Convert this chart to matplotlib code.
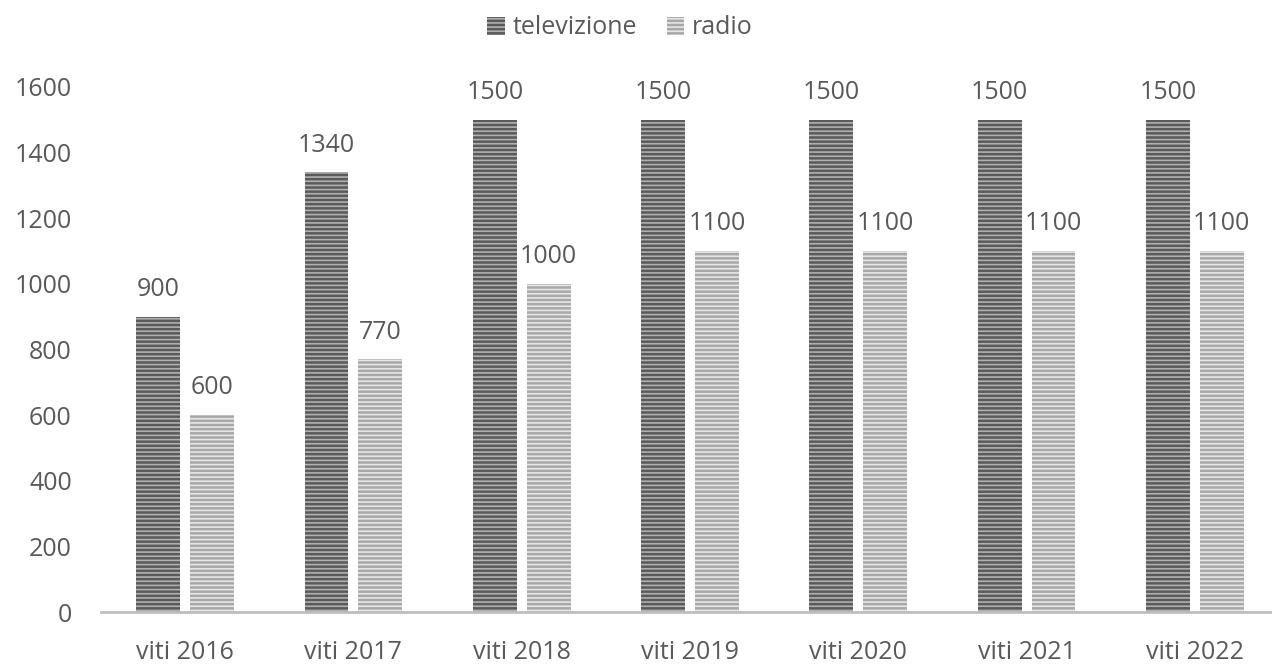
import matplotlib
matplotlib.use("Agg")
import matplotlib.pyplot as plt
import numpy as np

categories = ["viti 2016", "viti 2017", "viti 2018", "viti 2019", "viti 2020", "viti 2021", "viti 2022"]
televizione = [900, 1340, 1500, 1500, 1500, 1500, 1500]
radio = [600, 770, 1000, 1100, 1100, 1100, 1100]
yticks = [0, 200, 400, 600, 800, 1000, 1200, 1400, 1600]

plt.rcParams['font.family'] = ['Open Sans', 'DejaVu Sans']
plt.rcParams['hatch.linewidth'] = 1.2

fig = plt.figure(figsize=(12.72, 6.66), dpi=100)
ax = fig.add_axes([101/1272, 1-612/666, 1178/1272, (612-87)/666])

x = np.arange(len(categories))
w = 0.26
off = 0.16
txtc = '#595959'
fs = 18

b1 = ax.bar(x - off, televizione, w, color='#5a5a5a', edgecolor='#b0b0b0', linewidth=0,
            hatch='----', label='televizione')
b2 = ax.bar(x + off, radio, w, color='#a8a8a8', edgecolor='#e6e6e6', linewidth=0,
            hatch='----', label='radio')

for xi, v in zip(x - off, televizione):
    ax.text(xi, v + 45, f"{v}", ha='center', va='bottom', fontsize=fs, color=txtc)
for xi, v in zip(x + off, radio):
    ax.text(xi, v + 45, f"{v}", ha='center', va='bottom', fontsize=fs, color=txtc)

ax.set_ylim(0, 1600)
ax.set_xlim(-0.5, len(categories) - 0.5)
ax.set_yticks(yticks)
ax.set_yticklabels([str(t) for t in yticks])
ax.set_xticks(x)
ax.set_xticklabels(categories)
ax.tick_params(axis='both', length=0, labelsize=fs, colors=txtc)
ax.tick_params(axis='y', pad=21)
ax.tick_params(axis='x', pad=20)

for s in ['top', 'right', 'left']:
    ax.spines[s].set_visible(False)
ax.spines['bottom'].set_color('#bfbfbf')
ax.spines['bottom'].set_linewidth(2)

leg = fig.legend(handles=[b1, b2], loc='center', bbox_to_anchor=(620/1272, 1-28/666), ncol=2,
                 frameon=False, fontsize=fs, handlelength=0.7, handleheight=0.7,
                 columnspacing=1.2, handletextpad=0.3)
for t in leg.get_texts():
    t.set_color(txtc)

fig.savefig("out.png", dpi=100)
